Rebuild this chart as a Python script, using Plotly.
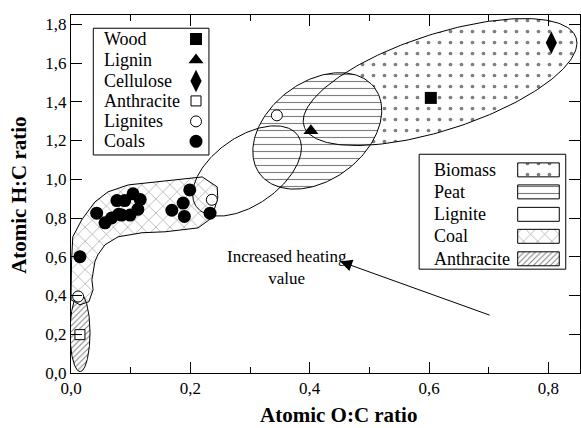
import numpy as np
import plotly.graph_objects as go

# ---------------- data (atomic O:C, atomic H:C) ----------------
wood_oc = [0.603]
wood_hc = [1.42]
lignin_oc = [0.402]
lignin_hc = [1.25]
cellulose_oc = [0.805]
cellulose_hc = [1.705]
anthracite_oc = [0.015]
anthracite_hc = [0.198]
lignites_oc = [0.345, 0.236, 0.012]
lignites_hc = [1.33, 0.894, 0.395]
coals_oc = [0.015, 0.043, 0.057, 0.068, 0.080, 0.077, 0.090, 0.104, 0.116,
            0.112, 0.099, 0.085, 0.169, 0.188, 0.190, 0.199, 0.233]
coals_hc = [0.600, 0.825, 0.775, 0.800, 0.820, 0.890, 0.890, 0.925, 0.895,
            0.845, 0.815, 0.815, 0.840, 0.877, 0.808, 0.945, 0.825]

# regions: ellipse = centre + u*cos(t) + v*sin(t)  (data units)
biomass_c, biomass_u, biomass_v = (0.6185, 1.502), (0.2280, 0.2280), (0.0248, -0.2354)
peat_c, peat_u, peat_v = (0.4127, 1.2496), (0.0961, 0.2228), (0.0494, -0.2017)
lignite_c, lignite_u, lignite_v = (0.295, 1.043), (0.0851, 0.1836), (0.0327, -0.1435)
anthr_c, anthr_u, anthr_v = (0.0151, 0.208), (0.0168, 0.0), (0.0, 0.201)
coal_oc = [0.000, 0.001, 0.003, 0.018, 0.040, 0.062, 0.096, 0.220, 0.245, 0.246,
           0.236, 0.213, 0.158, 0.119, 0.079, 0.057, 0.045, 0.040, 0.035, 0.037,
           0.030, 0.015]
coal_hc = [0.378, 0.584, 0.703, 0.791, 0.883, 0.935, 0.971, 1.012, 0.961, 0.904,
           0.801, 0.749, 0.729, 0.724, 0.703, 0.662, 0.610, 0.574, 0.481, 0.430,
           0.368, 0.352]

marker_labels = ["Wood", "Lignin", "Cellulose", "Anthracite", "Lignites", "Coals"]
region_labels = ["Biomass", "Peat", "Lignite", "Coal", "Anthracite"]
x_ticks = [0.0, 0.2, 0.4, 0.6, 0.8]
y_ticks = [0.0, 0.2, 0.4, 0.6, 0.8, 1.0, 1.2, 1.4, 1.6, 1.8]

FONT = "Liberation Serif"


def ellipse(c, u, v, n=241):
    t = np.linspace(0, 2 * np.pi, n)
    return (c[0] + u[0] * np.cos(t) + v[0] * np.sin(t),
            c[1] + u[1] * np.cos(t) + v[1] * np.sin(t))


pat_biomass = dict(shape=".", size=11, solidity=0.09, fgcolor="black", bgcolor="white")
pat_peat = dict(shape="-", size=7, solidity=0.16, fgcolor="black", bgcolor="white")
pat_coal = dict(shape="x", size=10, solidity=0.1, fgcolor="black", bgcolor="white")
pat_anthr = dict(shape="/", size=4, solidity=0.25, fgcolor="black", bgcolor="white")

fig = go.Figure()

bx, by = ellipse(biomass_c, biomass_u, biomass_v)
px_, py_ = ellipse(peat_c, peat_u, peat_v)
lx, ly = ellipse(lignite_c, lignite_u, lignite_v)
ax_, ay_ = ellipse(anthr_c, anthr_u, anthr_v)
cx = coal_oc + coal_oc[:1]
cy = coal_hc + coal_hc[:1]

# fills
for xx, yy, pat in [(bx, by, pat_biomass), (px_, py_, pat_peat),
                    (cx, cy, pat_coal), (ax_, ay_, pat_anthr)]:
    fig.add_trace(go.Scatter(x=xx, y=yy, mode="lines", fill="toself",
                             fillcolor="white", fillpattern=pat,
                             line=dict(width=0, color="black"),
                             hoverinfo="skip", showlegend=False))
# outlines
for xx, yy in [(bx, by), (px_, py_), (lx, ly), (cx, cy), (ax_, ay_)]:
    fig.add_trace(go.Scatter(x=xx, y=yy, mode="lines",
                             line=dict(width=1, color="black"),
                             hoverinfo="skip", showlegend=False))

# samples
mk = dict(
    Wood=dict(symbol="square", size=12, color="black"),
    Lignin=dict(symbol="triangle-up", size=13, color="black"),
    Cellulose=dict(symbol="diamond-tall", size=16, color="black"),
    Anthracite=dict(symbol="square", size=10, color="white", line=dict(color="black", width=1)),
    Lignites=dict(symbol="circle", size=11, color="white", line=dict(color="black", width=1)),
    Coals=dict(symbol="circle", size=13, color="black"),
)
series = [("Wood", wood_oc, wood_hc), ("Lignin", lignin_oc, lignin_hc),
          ("Cellulose", cellulose_oc, cellulose_hc),
          ("Anthracite", anthracite_oc, anthracite_hc),
          ("Lignites", lignites_oc, lignites_hc), ("Coals", coals_oc, coals_hc)]
for name, xs, ys in series:
    fig.add_trace(go.Scatter(x=xs, y=ys, mode="markers", name=name,
                             marker=mk[name], showlegend=False))

# ---------------- hand-made legends (overlay axis in [0,1]) ----------------
leg1_rows = [0.933, 0.8744, 0.8158, 0.760, 0.7028, 0.647]
for name, yy in zip(marker_labels, leg1_rows):
    fig.add_trace(go.Scatter(x=[0.2456], y=[yy], mode="markers", marker=mk[name],
                             xaxis="x2", yaxis="y2", showlegend=False, hoverinfo="skip"))
    fig.add_annotation(x=0.0615, y=yy, xref="paper", yref="paper", text=name,
                       showarrow=False, xanchor="left", yanchor="middle",
                       font=dict(family=FONT, size=18, color="black"))

leg2_rows = [0.5674, 0.5059, 0.4432, 0.3818, 0.3190]
sw_pats = [pat_biomass, pat_peat, None, pat_coal, pat_anthr]
sx0, sx1, sh = 0.8776, 0.9593, 0.0195
for name, yy, pat in zip(region_labels, leg2_rows, sw_pats):
    rx = [sx0, sx1, sx1, sx0, sx0]
    ry = [yy - sh, yy - sh, yy + sh, yy + sh, yy - sh]
    kw = dict(fill="toself", fillcolor="white")
    if pat is not None:
        kw["fillpattern"] = pat
    fig.add_trace(go.Scatter(x=rx, y=ry, mode="lines", line=dict(color="black", width=1),
                             xaxis="x2", yaxis="y2", showlegend=False, hoverinfo="skip", **kw))
    fig.add_annotation(x=0.7086, y=yy, xref="paper", yref="paper", text=name,
                       showarrow=False, xanchor="left", yanchor="middle",
                       font=dict(family=FONT, size=18, color="black"))

fig.add_shape(type="rect", xref="paper", yref="paper", x0=0.0438, x1=0.271,
              y0=0.609, y1=0.963, line=dict(color="black", width=1))
fig.add_shape(type="rect", xref="paper", yref="paper", x0=0.684, x1=0.972,
              y0=0.290, y1=0.611, line=dict(color="black", width=1))

# arrow + text
fig.add_annotation(x=0.451, y=0.576, ax=0.704, ay=0.296, xref="x", yref="y",
                   axref="x", ayref="y", text="", showarrow=True,
                   arrowhead=2, arrowsize=2.4, arrowwidth=1, arrowcolor="black")
fig.add_annotation(x=0.4244, y=0.2325, xref="paper", yref="paper",
                   text="Increased heating<br>value", showarrow=False,
                   font=dict(family=FONT, size=17, color="black"), align="center")

# axis titles
fig.add_annotation(x=0.5246, y=-0.1164, xref="paper", yref="paper",
                   text="<b>Atomic O:C ratio</b>", showarrow=False,
                   xanchor="center", yanchor="middle",
                   font=dict(family=FONT, size=21, color="black"))
fig.add_annotation(x=-0.102, y=0.495, xref="paper", yref="paper",
                   text="<b>Atomic H:C ratio</b>", showarrow=False, textangle=-90,
                   xanchor="center", yanchor="middle",
                   font=dict(family=FONT, size=21, color="black"))

axis_common = dict(showgrid=False, zeroline=False, showline=True, linecolor="black",
                   linewidth=1, mirror="ticks", ticks="inside", tickcolor="black",
                   tickwidth=1, tickformat=".1f",
                   tickfont=dict(family=FONT, size=17, color="black"))
fig.update_layout(
    width=581, height=428,
    margin=dict(l=71, r=1, t=15, b=55),
    paper_bgcolor="white", plot_bgcolor="white",
    separators=", ",
    showlegend=False,
    xaxis=dict(range=[0, 0.853], tickvals=x_ticks, ticklen=11,
               minor=dict(dtick=0.1, tick0=0, ticks="inside", ticklen=6, tickcolor="black"),
               **axis_common),
    yaxis=dict(range=[0, 1.848], tickvals=y_ticks, ticklen=11, **axis_common),
    xaxis2=dict(overlaying="x", range=[0, 1], visible=False, fixedrange=True),
    yaxis2=dict(overlaying="y", range=[0, 1], visible=False, fixedrange=True),
)

fig.write_html("out.html", config={"displayModeBar": False},
               post_script="document.body.style.margin='0px';document.body.style.overflow='hidden';")
